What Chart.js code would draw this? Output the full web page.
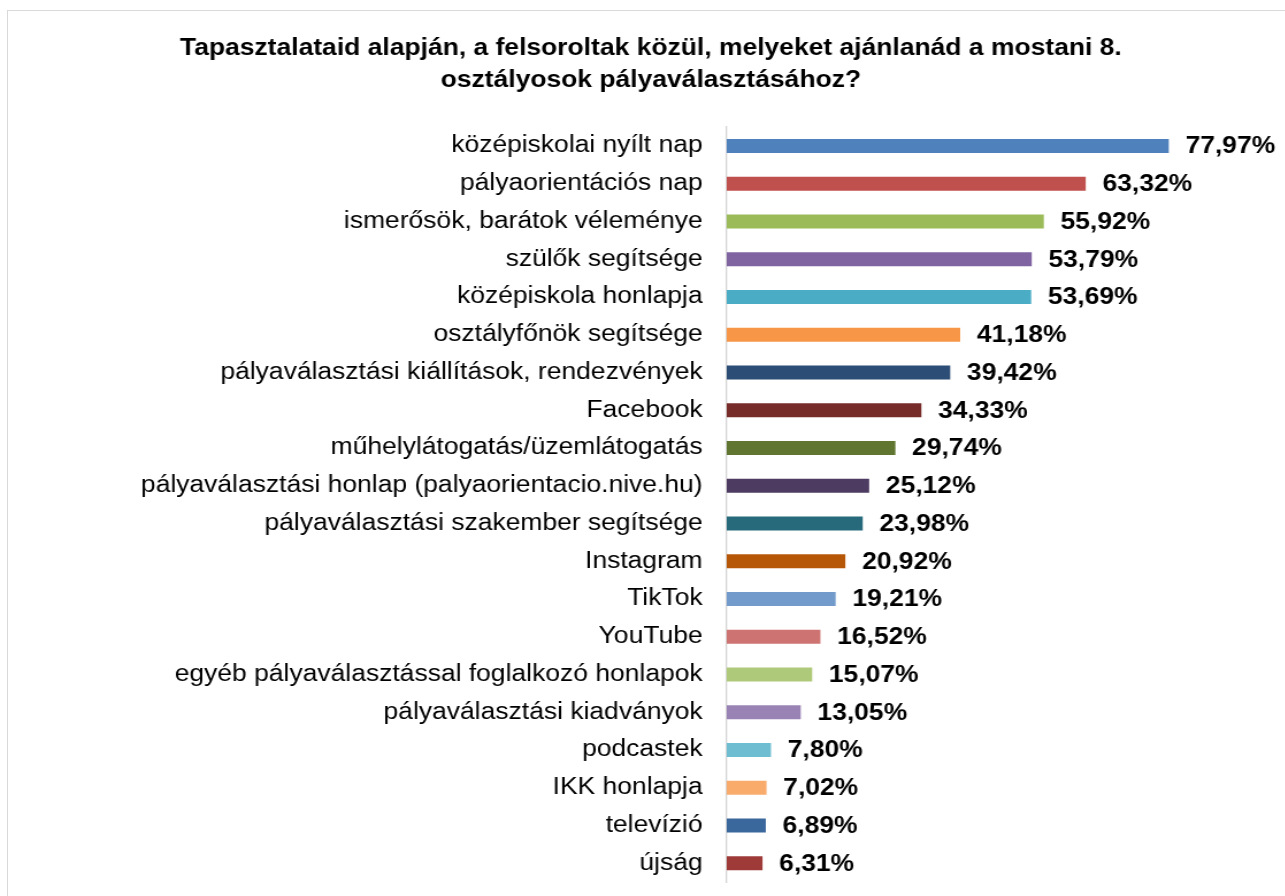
<!DOCTYPE html>
<html>
<head>
<meta charset="utf-8">
<script src="https://cdn.jsdelivr.net/npm/chart.js@4/dist/chart.umd.min.js"></script>
<style>
  html, body { margin: 0; padding: 0; background: #fff; overflow: hidden; }
  #frame {
    position: absolute; left: 7px; top: 10px;
    width: 1290px; height: 920px;
    border: 1px solid #d9d9d9; background: #fff;
  }
  /* the chart is drawn a little narrower and widened horizontally */
  #wrap {
    position: absolute; left: 0; top: 0;
    width: 1122px; height: 898px;
    transform: scaleX(1.15); transform-origin: 0 0;
  }
</style>
</head>
<body>
<div id="frame"><div id="wrap"><canvas id="chart"></canvas></div></div>
<script>
// Válaszok aránya (%), csökkenő sorrendben
const categories = [
  'középiskolai nyílt nap',
  'pályaorientációs nap',
  'ismerősök, barátok véleménye',
  'szülők segítsége',
  'középiskola honlapja',
  'osztályfőnök segítsége',
  'pályaválasztási kiállítások, rendezvények',
  'Facebook',
  'műhelylátogatás/üzemlátogatás',
  'pályaválasztási honlap (palyaorientacio.nive.hu)',
  'pályaválasztási szakember segítsége',
  'Instagram',
  'TikTok',
  'YouTube',
  'egyéb pályaválasztással foglalkozó honlapok',
  'pályaválasztási kiadványok',
  'podcastek',
  'IKK honlapja',
  'televízió',
  'újság'
];
const values = [77.97, 63.32, 55.92, 53.79, 53.69, 41.18, 39.42, 34.33, 29.74, 25.12,
                23.98, 20.92, 19.21, 16.52, 15.07, 13.05, 7.80, 7.02, 6.89, 6.31];
const barColors = [
  '#4F81BD', '#C0504D', '#9BBB59', '#8064A2', '#4BACC6', '#F79646', '#2C4D75',
  '#772C2A', '#5F7530', '#4D3B62', '#276A7C', '#B65708', '#729ACA', '#CD7371',
  '#AFC97A', '#9983B5', '#6FBDD1', '#F9AB6B', '#3A679C', '#9E3B38'
];
const titleLines = [
  'Tapasztalataid alapján, a felsoroltak közül, melyeket ajánlanád a mostani 8.',
  'osztályosok pályaválasztásához?'
];

const FONT = "'Liberation Sans', Arial, sans-serif";

function fmt(v) {
  return v.toFixed(2).replace('.', ',') + '%';
}

// százalék felirat a sávok végén
const valueLabels = {
  id: 'valueLabels',
  afterDatasetsDraw(chart) {
    const ctx = chart.ctx;
    const meta = chart.getDatasetMeta(0);
    ctx.save();
    ctx.font = 'bold 23px ' + FONT;
    ctx.fillStyle = '#000';
    ctx.textAlign = 'left';
    ctx.textBaseline = 'middle';
    meta.data.forEach((bar, i) => {
      ctx.fillText(fmt(values[i]), bar.x + 14.5, bar.y + 1);
    });
    ctx.restore();
  }
};

new Chart(document.getElementById('chart'), {
  type: 'bar',
  data: {
    labels: categories,
    datasets: [{
      data: values,
      backgroundColor: barColors,
      borderWidth: 0,
      barPercentage: 0.53,
      categoryPercentage: 0.7
    }]
  },
  options: {
    indexAxis: 'y',
    responsive: true,
    maintainAspectRatio: false,
    animation: false,
    layout: { padding: { left: 0, right: 4, top: 0, bottom: 0 } },
    plugins: {
      legend: { display: false },
      tooltip: { enabled: false },
      title: {
        display: true,
        text: titleLines,
        color: '#000',
        font: { family: FONT, size: 23, weight: 'bold', lineHeight: '32px' },
        padding: { top: 22, bottom: 30 }
      }
    },
    scales: {
      x: {
        display: false,
        min: 0,
        max: 100
      },
      y: {
        grid: { display: false },
        border: { display: true, color: '#d4d4d4', width: 1.3 },
        ticks: {
          color: '#000',
          padding: 13,
          font: { family: FONT, size: 23 }
        },
        afterFit(scale) {
          scale.width = 625;
        }
      }
    }
  },
  plugins: [valueLabels]
});
</script>
</body>
</html>
